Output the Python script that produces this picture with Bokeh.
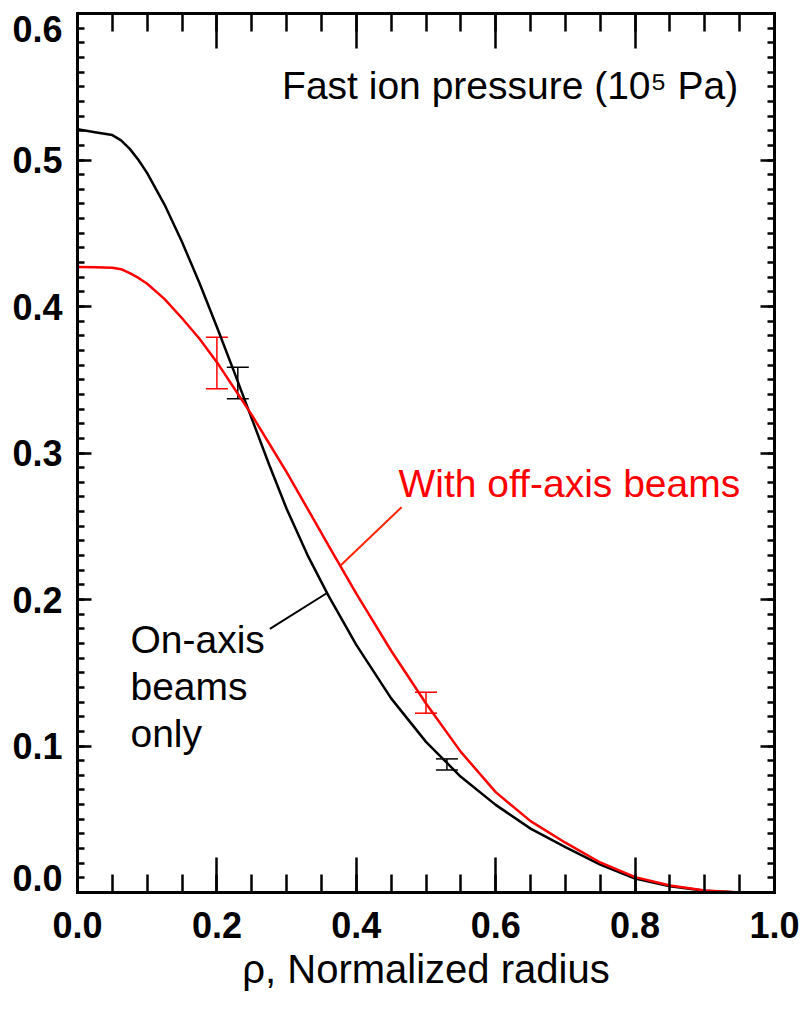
import numpy as np
from bokeh.plotting import figure
from bokeh.models import (Range1d, LinearAxis, FixedTicker, Label, ColumnDataSource,
                          Whisker, TeeHead, CustomJSTickFormatter, PrintfTickFormatter)
from bokeh.embed import file_html
from bokeh.resources import INLINE

# Normalized radius grid of the profiles
rho = [0.000, 0.025, 0.050, 0.0625, 0.075, 0.0875, 0.100, 0.125, 0.150, 0.175,
       0.200, 0.225, 0.250, 0.275, 0.300, 0.330, 0.360, 0.400, 0.450, 0.500,
       0.550, 0.600, 0.650, 0.700, 0.750, 0.800, 0.850, 0.900, 0.950]

# Fast ion pressure (10^5 Pa), on-axis beams only
p_on_axis = [0.521, 0.519, 0.517, 0.5134, 0.5076, 0.500, 0.491, 0.4694, 0.444, 0.416,
             0.386, 0.355, 0.3235, 0.292, 0.262, 0.2303, 0.2026, 0.169, 0.1325, 0.1028,
             0.079, 0.0598, 0.0436, 0.031, 0.019, 0.0095, 0.0042, 0.0012, 0.0]

# Fast ion pressure (10^5 Pa), with off-axis beams
p_off_axis = [0.427, 0.4268, 0.4265, 0.4255, 0.4228, 0.4195, 0.4155, 0.405, 0.392, 0.378,
              0.362, 0.344, 0.326, 0.3065, 0.287, 0.262, 0.237, 0.204, 0.165, 0.129,
              0.096, 0.0685, 0.0487, 0.034, 0.0205, 0.0105, 0.0048, 0.0014, 0.0]

# Error bars
err_rho_on = [0.23, 0.53]
err_lo_on = [0.337, 0.0837]
err_hi_on = [0.3586, 0.0912]
err_rho_off = [0.20, 0.50]
err_lo_off = [0.3438, 0.1224]
err_hi_off = [0.379, 0.1367]

# Ticks
x_ticks = [0.0, 0.2, 0.4, 0.6, 0.8, 1.0]
y_ticks = [0.0, 0.1, 0.2, 0.3, 0.4, 0.5, 0.6]
y_tick_labels = ["0.0", "0.1", "0.2", "0.3", "0.4", "0.5", "0.6"]

title_text = "Fast ion pressure (10\u2075 Pa)"
x_title = "\u03c1, Normalized radius"
off_axis_text = "With off-axis beams"
on_axis_lines = ["On-axis", "beams", "only"]

FONT = "Liberation Sans"
RED = "#ff0000"

FRAME_H = 879
Y_MAX = 0.6

p = figure(width=801, height=1015, x_range=Range1d(0, 1), y_range=Range1d(0, Y_MAX),
           x_axis_type=None, y_axis_type=None, output_backend="svg",
           toolbar_location=None, min_border_left=77, min_border_right=27,
           min_border_top=13, min_border_bottom=123)
p.outline_line_color = None
p.xgrid.visible = False
p.ygrid.visible = False
p.background_fill_color = "white"
p.border_fill_color = "white"

x_minor = [round(v, 3) for v in np.arange(0, 1.0001, 0.05)]
y_minor = [round(v, 3) for v in np.arange(0, 0.6001, 0.01)]


def blank_formatter():
    return CustomJSTickFormatter(code="return ''")


def tick_axis(ticks, minor, major_len, minor_len):
    ax = LinearAxis(ticker=FixedTicker(ticks=ticks, minor_ticks=minor))
    ax.axis_line_width = 3
    ax.axis_line_cap = "square"
    ax.major_tick_line_width = 2.5
    ax.minor_tick_line_width = 2.5
    ax.major_tick_in = major_len
    ax.major_tick_out = 0
    ax.minor_tick_in = minor_len
    ax.minor_tick_out = 0
    ax.formatter = blank_formatter()
    ax.major_label_text_font_size = "0px"
    ax.major_label_standoff = 0
    return ax


# bottom axis with labels and title
bottom = tick_axis(x_ticks, x_minor, 35, 18)
bottom.formatter = PrintfTickFormatter(format="%.1f")
bottom.major_label_text_font = FONT
bottom.major_label_text_font_style = "bold"
bottom.major_label_text_font_size = "36px"
bottom.major_label_text_color = "black"
bottom.major_label_standoff = 19
bottom.axis_label = x_title
bottom.axis_label_text_font = FONT
bottom.axis_label_text_font_style = "normal"
bottom.axis_label_text_font_size = "40px"
bottom.axis_label_text_color = "black"
bottom.axis_label_standoff = 6
p.add_layout(bottom, "below")

p.add_layout(tick_axis(x_ticks, x_minor, 35, 18), "above")
p.add_layout(tick_axis(y_ticks, y_minor, 14, 7), "left")
p.add_layout(tick_axis(y_ticks, y_minor, 14, 7), "right")

# left tick labels: the two end labels are pulled inside the axis span
shift = 15 * Y_MAX / FRAME_H
label_pos = [v + shift if v == min(y_ticks) else (v - shift if v == max(y_ticks) else v)
             for v in y_ticks]
ylab = LinearAxis(ticker=FixedTicker(ticks=label_pos, minor_ticks=[]))
ylab.axis_line_color = None
ylab.major_tick_line_color = None
ylab.minor_tick_line_color = None
ylab.major_tick_in = 0
ylab.major_tick_out = 0
ylab.minor_tick_in = 0
ylab.minor_tick_out = 0
ylab.formatter = CustomJSTickFormatter(args=dict(pos=label_pos, labels=y_tick_labels), code="""
    let best = 0, bd = Infinity;
    for (let i = 0; i < pos.length; i++) {
        const d = Math.abs(pos[i] - tick);
        if (d < bd) { bd = d; best = i; }
    }
    return labels[best];
""")
ylab.major_label_text_font = FONT
ylab.major_label_text_font_style = "bold"
ylab.major_label_text_font_size = "36px"
ylab.major_label_text_color = "black"
ylab.major_label_standoff = 15
p.add_layout(ylab, "left")

# profiles
p.line(rho, p_on_axis, line_color="black", line_width=2.5)
p.line(rho, p_off_axis, line_color=RED, line_width=2.5)

# error bars
for xs, lo, hi, col in [(err_rho_on, err_lo_on, err_hi_on, "black"),
                        (err_rho_off, err_lo_off, err_hi_off, RED)]:
    src = ColumnDataSource(dict(base=xs, lower=lo, upper=hi))
    p.add_layout(Whisker(source=src, base="base", lower="lower", upper="upper",
                         dimension="height", line_color=col, line_width=1.5,
                         upper_head=TeeHead(size=22, line_color=col, line_width=1.5),
                         lower_head=TeeHead(size=22, line_color=col, line_width=1.5)))

# leader lines from the curve labels to the curves
red_anchor = 0.377
black_anchor = 0.358
p.segment(x0=[red_anchor], y0=[float(np.interp(red_anchor, rho, p_off_axis))],
          x1=[0.465], y1=[0.263], line_color="#ff2200", line_width=2)
p.segment(x0=[black_anchor], y0=[float(np.interp(black_anchor, rho, p_on_axis))],
          x1=[0.276], y1=[0.180], line_color="black", line_width=2)

# texts
p.add_layout(Label(x=0.948, y=0.551, text=title_text, text_align="right",
                   text_baseline="alphabetic", text_font=FONT, text_font_size="39px",
                   text_color="black"))
p.add_layout(Label(x=0.4605, y=0.279, text=off_axis_text, text_align="left",
                   text_baseline="alphabetic", text_font=FONT, text_font_size="39px",
                   text_color=RED))
for i, line in enumerate(on_axis_lines):
    p.add_layout(Label(x=0.076, y=0.173, y_offset=-47 * i, text=line, text_align="left",
                       text_baseline="alphabetic", text_font=FONT, text_font_size="39px",
                       text_color="black"))

open("out.html", "w").write(file_html(p, INLINE))
